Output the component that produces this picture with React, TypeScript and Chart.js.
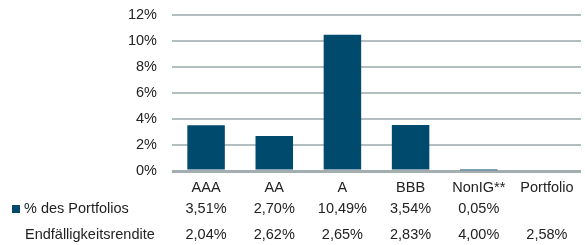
import React, { useEffect, useRef } from "react";
import { Chart, registerables } from "chart.js";

Chart.register(...registerables);

const categories = ["AAA", "AA", "A", "BBB", "NonIG**", "Portfolio"];
const portfolioShare = [3.51, 2.7, 10.49, 3.54, 0.05, null];
const yieldToMaturity = [2.04, 2.62, 2.65, 2.83, 4.0, 2.58];
const shareLabels = ["3,51%", "2,70%", "10,49%", "3,54%", "0,05%", ""];
const yieldLabels = ["2,04%", "2,62%", "2,65%", "2,83%", "4,00%", "2,58%"];
const rowNames = ["% des Portfolios", "Endfälligkeitsrendite"];
const yTicks = [0, 2, 4, 6, 8, 10, 12];

const BAR = "#004a6d";
const FONT = "'Liberation Sans', Arial, sans-serif";

export default function App() {
  const ref = useRef<HTMLCanvasElement>(null);
  useEffect(() => {
    const tablePlugin = {
      id: "table",
      afterDraw(chart: any) {
        const ctx = chart.ctx;
        const x = chart.scales.x;
        ctx.save();
        ctx.font = `14.5px ${FONT}`;
        ctx.fillStyle = "#222";
        ctx.textBaseline = "middle";
        const rows = [shareLabels, yieldLabels];
        const ys = [209, 235];
        rows.forEach((row, r) => {
          ctx.textAlign = "center";
          row.forEach((t, i) => {
            if (t) ctx.fillText(t, x.getPixelForValue(i), ys[r]);
          });
        });
        ctx.textAlign = "left";
        ctx.fillStyle = BAR;
        ctx.fillRect(12, 205, 8, 8);
        ctx.fillStyle = "#222";
        ctx.fillText(rowNames[0], 24, ys[0]);
        ctx.fillText(rowNames[1], 25, ys[1]);
        ctx.restore();
      },
    };
    const chart = new Chart(ref.current!, {
      type: "bar",
      data: {
        labels: categories,
        datasets: [
          {
            label: rowNames[0],
            data: portfolioShare as any,
            backgroundColor: BAR,
            categoryPercentage: 1,
            barPercentage: 0.55,
          },
        ],
      },
      options: {
        animation: false,
        responsive: false,
        maintainAspectRatio: false,
        layout: { padding: { top: 15, right: 4, left: 0, bottom: 0 } },
        plugins: { legend: { display: false }, tooltip: { enabled: false } },
        scales: {
          x: {
            grid: { display: false, drawTicks: false },
            border: { display: false },
            ticks: { color: "#222", font: { family: FONT, size: 14.5 }, padding: 8 },
            afterFit(s: any) {
              s.height = 74;
            },
          },
          y: {
            min: 0,
            max: 12,
            afterBuildTicks(s: any) {
              s.ticks = yTicks.map((v) => ({ value: v }));
            },
            grid: {
              color: (c: any) => (c.tick && c.tick.value === 0 ? "#a4aeb1" : "#b3bec1"),
              lineWidth: (c: any) => (c.tick && c.tick.value === 0 ? 3 : 2),
              drawTicks: false,
            },
            border: { display: false },
            ticks: {
              color: "#222",
              font: { family: FONT, size: 14.5 },
              padding: 15,
              callback: (v: any) => `${v}%`,
            },
            afterFit(s: any) {
              s.width = 172;
              s.paddingTop = 0;
              s.paddingBottom = 0;
            },
          },
        },
      },
      plugins: [tablePlugin],
    });
    return () => chart.destroy();
  }, []);
  return (
    <div style={{ position: "fixed", left: 0, top: 0, width: 585, height: 245, background: "#fff" }}>
      <canvas ref={ref} width={585} height={245} style={{ width: 585, height: 245 }} />
    </div>
  );
}
